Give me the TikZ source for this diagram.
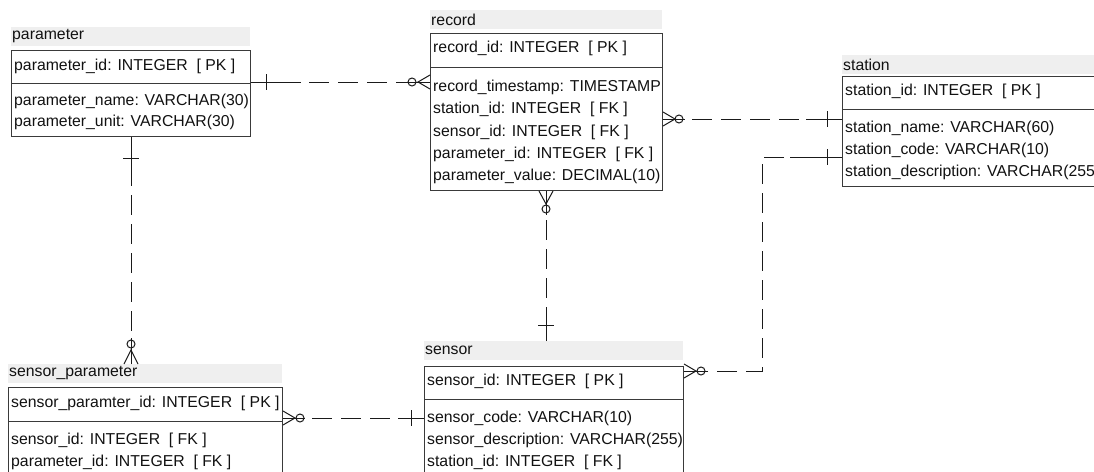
\documentclass[tikz,border=0pt]{standalone}
\usepackage{fontspec}
\setmainfont{Liberation Sans}
\usetikzlibrary{calc}
\definecolor{hdr}{HTML}{EFEFEF}
\definecolor{bord}{HTML}{3A3A3A}
\definecolor{tcol}{HTML}{111111}
\definecolor{lcol}{HTML}{1A1A1A}
\tikzset{
  band/.style={fill=hdr, draw=none, anchor=north west, inner sep=0pt, minimum height=19pt},
  tbox/.style={draw=bord, line width=1pt, anchor=north west, inner sep=0pt},
  sepline/.style={draw=bord, line width=1pt},
  txt/.style={anchor=west, inner sep=0pt, text=tcol, font=\fontsize{15.8}{19}\selectfont},
  conn/.style={draw=lcol, line width=1pt},
  dsh/.style={draw=lcol, line width=1pt, dash pattern=on 20pt off 9pt},
}
\begin{document}
\begin{tikzpicture}[x=1pt,y=-1pt]
\useasboundingbox (0,0) rectangle (1094,471);
\clip (0,0) rectangle (1094,471);

% ---------- parameter ----------
\node[band, minimum width=239pt] (parameterH) at (11,27) {};
\node[txt] (parameterT) at (12,36.5) {parameter};
\node[tbox, minimum width=239pt, minimum height=86pt] (parameter) at (11,50) {};
\draw[sepline] (parameter.west |- 0,83) -- (parameter.east |- 0,83);
\node[txt] (p0) at (14,66) {parameter\_id: INTEGER\ \ [ PK ]};
\node[txt] (p1) at (14,101) {parameter\_name: VARCHAR(30)};
\node[txt] (p2) at (14,122) {parameter\_unit: VARCHAR(30)};

% ---------- record ----------
\node[band, minimum width=232pt] (recordH) at (430,10) {};
\node[txt] (recordT) at (431,19.5) {record};
\node[tbox, minimum width=232pt, minimum height=157pt] (record) at (430,33) {};
\draw[sepline] (record.west |- 0,67) -- (record.east |- 0,67);
\node[txt] (r0) at (433,48) {record\_id: INTEGER\ \ [ PK ]};
\node[txt] (r1) at (433,87) {record\_timestamp: TIMESTAMP};
\node[txt] (r2) at (433,109) {station\_id: INTEGER\ \ [ FK ]};
\node[txt] (r3) at (433,132) {sensor\_id: INTEGER\ \ [ FK ]};
\node[txt] (r4) at (433,154) {parameter\_id: INTEGER\ \ [ FK ]};
\node[txt] (r5) at (433,176) {parameter\_value: DECIMAL(10)};

% ---------- station ----------
\node[band, minimum width=260pt] (stationH) at (842,55) {};
\node[txt] (stationT) at (843,64.5) {station};
\node[tbox, minimum width=260pt, minimum height=110pt] (station) at (842,76) {};
\draw[sepline] (station.west |- 0,109) -- (station.east |- 0,109);
\node[txt] (s0) at (845,91) {station\_id: INTEGER\ \ [ PK ]};
\node[txt] (s1) at (845,128) {station\_name: VARCHAR(60)};
\node[txt] (s2) at (845,150) {station\_code: VARCHAR(10)};
\node[txt] (s3) at (845,172) {station\_description: VARCHAR(255)};

% ---------- sensor_parameter ----------
\node[band, minimum width=274pt] (spH) at (8,364) {};
\node[txt] (spT) at (9,373.5) {sensor\_parameter};
\node[tbox, minimum width=274pt, minimum height=100pt] (sp) at (8,387) {};
\draw[sepline] (sp.west |- 0,421) -- (sp.east |- 0,421);
\node[txt] (sp0) at (11,403) {sensor\_paramter\_id: INTEGER\ \ [ PK ]};
\node[txt] (sp1) at (11,440) {sensor\_id: INTEGER\ \ [ FK ]};
\node[txt] (sp2) at (11,462) {parameter\_id: INTEGER\ \ [ FK ]};

% ---------- sensor ----------
\node[band, minimum width=259pt] (sensorH) at (424,341) {};
\node[txt] (sensorT) at (425,350.5) {sensor};
\node[tbox, minimum width=259pt, minimum height=120pt] (sensor) at (424,366) {};
\draw[sepline] (sensor.west |- 0,399) -- (sensor.east |- 0,399);
\node[txt] (se0) at (427,381) {sensor\_id: INTEGER\ \ [ PK ]};
\node[txt] (se1) at (427,418) {sensor\_code: VARCHAR(10)};
\node[txt] (se2) at (427,440) {sensor\_description: VARCHAR(255)};
\node[txt] (se3) at (427,462) {station\_id: INTEGER\ \ [ FK ]};

% ---------- connector 1: parameter -> record ----------
\coordinate (c1a) at (parameter.east |- 0,82);
\coordinate (c1b) at (record.west |- 0,82);
\draw[dsh] (c1a) -- (c1b);
\draw[conn] (c1a) -- ++(50,0);
\draw[conn] ($(c1a)+(15,-8)$) -- ($(c1a)+(15,8)$);
\draw[conn] ($(c1b)+(-16,0)$) -- (c1b);
\draw[conn] ($(c1b)+(-18,0)$) circle (4);
\draw[conn] ($(c1b)+(0,-7)$) -- ($(c1b)+(-12,0)$) -- ($(c1b)+(0,7)$);

% ---------- connector 2: record -> station ----------
\coordinate (c2a) at (record.east |- 0,119);
\coordinate (c2b) at (station.west |- 0,119);
\draw[dsh] (c2a) -- (c2b);
\draw[conn] (c2a) -- ++(22,0);
\draw[conn] ($(c2a)+(0,-7)$) -- ($(c2a)+(12,0)$) -- ($(c2a)+(0,7)$);
\draw[conn] ($(c2a)+(16,0)$) circle (4);
\draw[conn] (c2b) -- ++(-36,0);
\draw[conn] ($(c2b)+(-15,-8)$) -- ($(c2b)+(-15,8)$);

% ---------- connector 3: station -> sensor ----------
\coordinate (c3a) at (station.west |- 0,157);
\coordinate (c3k) at (762,157);
\coordinate (c3m) at (762,371);
\coordinate (c3b) at (sensor.east |- 0,371);
\draw[dsh] (c3a) -- (c3k) -- (c3m) -- (c3b);
\draw[conn] (c3a) -- ++(-52,0);
\draw[conn] ($(c3a)+(-15,-8)$) -- ($(c3a)+(-15,8)$);
\draw[conn] (c3b) -- ++(22,0);
\draw[conn] ($(c3b)+(0,-7)$) -- ($(c3b)+(12,0)$) -- ($(c3b)+(0,7)$);
\draw[conn] ($(c3b)+(17,0)$) circle (4);

% ---------- connector 4: record -> sensor ----------
\coordinate (c4a) at (record.south -| 546,0);
\coordinate (c4b) at (sensorH.north -| 546,0);
\draw[dsh] (c4a) -- (c4b);
\draw[conn] (c4a) -- ++(0,24);
\draw[conn] ($(c4a)+(-7,0)$) -- ($(c4a)+(0,13)$) -- ($(c4a)+(7,0)$);
\draw[conn] ($(c4a)+(0,18)$) circle (4);
\draw[conn] (c4b) -- ++(0,-26);
\draw[conn] ($(c4b)+(-8,-16)$) -- ($(c4b)+(8,-16)$);

% ---------- connector 5: parameter -> sensor_parameter ----------
\coordinate (c5a) at (parameter.south -| 131,0);
\coordinate (c5b) at (spH.north -| 131,0);
\draw[dsh] (c5a) -- (c5b);
\draw[conn] (c5a) -- ++(0,34);
\draw[conn] ($(c5a)+(-8,21)$) -- ($(c5a)+(8,21)$);
\draw[conn] (c5b) -- ++(0,-26);
\draw[conn] ($(c5b)+(-7,0)$) -- ($(c5b)+(0,-14)$) -- ($(c5b)+(7,0)$);
\draw[conn] ($(c5b)+(0,-20)$) circle (4);

% ---------- connector 6: sensor_parameter -> sensor ----------
\coordinate (c6a) at (sp.east |- 0,418);
\coordinate (c6b) at (sensor.west |- 0,418);
\draw[dsh] (c6a) -- (c6b);
\draw[conn] (c6a) -- ++(22,0);
\draw[conn] ($(c6a)+(0,-7)$) -- ($(c6a)+(12,0)$) -- ($(c6a)+(0,7)$);
\draw[conn] ($(c6a)+(17,0)$) circle (4);
\draw[conn] (c6b) -- ++(-26,0);
\draw[conn] ($(c6b)+(-13,-8)$) -- ($(c6b)+(-13,8)$);
\end{tikzpicture}
\end{document}
